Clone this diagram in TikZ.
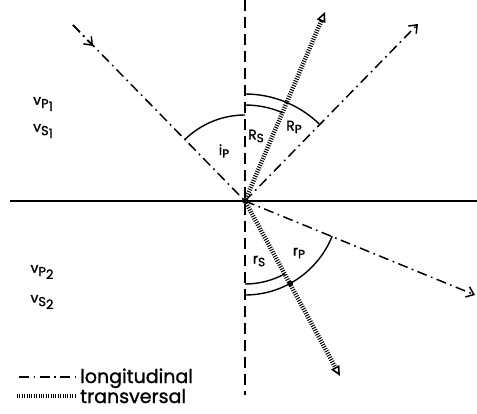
\documentclass[tikz,border=0pt]{standalone}
\usepackage{fontspec}
\setmainfont{Poppins}[FakeBold=1.2]
\usetikzlibrary{arrows.meta}
\tikzset{
  longit/.style={line width=1.5pt, dash pattern=on 10pt off 4.5pt on 1.7pt off 4.5pt},
  transv/.style={line width=4.5pt, dash pattern=on 1pt off 1.4pt},
  axisv/.style={line width=1.4pt, dash pattern=on 11pt off 6pt},
  interface/.style={line width=2.4pt},
  arcline/.style={line width=1.4pt},
  barb/.style={-{Straight Barb[length=7pt,width=11pt,line width=1.5pt]}},
  tri/.style={-{Triangle[open,length=10pt,width=9pt,line width=1.6pt]}},
  lbl/.style={inner sep=0pt, font=\fontsize{14}{16}\selectfont},
  leg/.style={inner sep=0pt, anchor=base west, font=\fontsize{19}{21}\selectfont},
}
\newcommand{\subs}[2]{#1\raisebox{-0.35ex}{\fontsize{12}{14}\selectfont #2}}
\newcommand{\vlab}[2]{v\raisebox{-0.45ex}{\fontsize{13}{15}\selectfont #1\raisebox{-0.4ex}{#2}}}
\begin{document}
\begin{tikzpicture}[x=1pt,y=1pt]
\useasboundingbox (0,0) rectangle (477,413);
\coordinate (O) at (245,212);
\coordinate (hl) at (10,212);
\coordinate (hr) at (477,212);
\coordinate (vt) at (245,413);
\coordinate (vb) at (245,18);
\coordinate (inc) at (73,388);
\coordinate (inctip) at (93,367);
\coordinate (rp) at (418,389);
\coordinate (rs) at (325,401);
\coordinate (tp) at (475,118);
\coordinate (ts) at (340,37);

% interface and normal
\draw[interface] (hl) -- (hr);
\draw[axisv] (vt) -- (vb);

% arcs
\draw[arcline] (O) ++(90:86) arc[start angle=90, end angle=134.3, radius=86];
\draw[arcline] (O) ++(90:96) arc[start angle=90, end angle=66.8, radius=96];
\draw[arcline] (O) ++(90:107) arc[start angle=90, end angle=45.7, radius=107];
\draw[arcline] (O) ++(-90:83) arc[start angle=-90, end angle=-61.3, radius=83];
\draw[arcline] (O) ++(-90:94) arc[start angle=-90, end angle=-22, radius=94];

% rays
\draw[longit] (inc) -- (O);
\draw[longit, barb] (inc) -- (inctip);
\draw[longit, barb] (O) -- (rp);
\draw[longit, barb] (O) -- (tp);
\draw[transv, tri] (O) -- (rs);
\draw[transv, tri] (O) -- (ts);

% dots
\fill (O) circle[radius=2.8pt];
\fill (O) ++(-61.3:94) circle[radius=2.8pt];

% angle labels
\node[lbl] (ip) at (224,262) {\subs{i}{P}};
\node[lbl] (RS) at (256,277) {\subs{R}{S}};
\node[lbl] (RP) at (294,286) {\subs{R}{P}};
\node[lbl] (rS) at (259,152) {\subs{r}{S}};
\node[lbl] (rP) at (299,160) {\subs{r}{P}};

% media labels
\node[lbl] (vp1) at (43,309) {\vlab{P}{1}};
\node[lbl] (vs1) at (43,282) {\vlab{S}{1}};
\node[lbl] (vp2) at (42,141) {\vlab{P}{2}};
\node[lbl] (vs2) at (42,111) {\vlab{S}{2}};

% legend
\coordinate (l1a) at (19,36);
\coordinate (l1b) at (75,36);
\coordinate (l2a) at (17,17);
\coordinate (l2b) at (75,17);
\draw[longit] (l1a) -- (l1b);
\draw[transv] (l2a) -- (l2b);
\node[leg] (tl) at (80,30) {longitudinal};
\node[leg] (tt) at (80,10) {transversal};
\end{tikzpicture}
\end{document}
